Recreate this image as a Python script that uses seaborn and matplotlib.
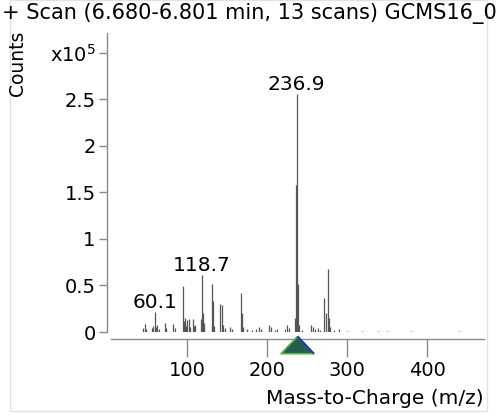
import numpy as np
import pandas as pd
import seaborn as sns
import matplotlib.pyplot as plt
from matplotlib.path import Path
from matplotlib.transforms import blended_transform_factory

# stick spectrum, counts in units of 1e5
mz = [45.0, 47.6, 49.0, 56.0, 58.0, 60.1, 61.0, 63.0, 65.0, 72.0, 74.0, 83.0, 85.0,
      95.0, 96.0, 97.0, 99.0, 100.5, 103.0, 104.0, 107.0, 109.0, 110.0,
      117.7, 118.7, 119.7, 120.7, 121.7, 130.7, 131.7, 132.8, 134.0,
      141.6, 143.7, 144.7, 147.0, 154.0, 156.0, 167.0, 169.0, 170.0,
      175.0, 181.0, 186.0, 190.0, 193.0, 203.0, 205.0, 210.0, 213.0,
      222.0, 225.0, 227.0, 234.9, 235.9, 236.9, 237.9, 238.9, 239.9, 244.0,
      255.0, 257.0, 260.0, 263.0, 266.0, 271.0, 274.0, 275.9, 276.9, 278.0,
      283.0, 290.0, 300.0, 318.0, 338.0, 350.0, 380.0, 440.0]
counts = [0.04, 0.09, 0.03, 0.04, 0.06, 0.22, 0.05, 0.08, 0.03, 0.10, 0.04, 0.09, 0.04,
          0.49, 0.12, 0.15, 0.06, 0.13, 0.14, 0.05, 0.14, 0.06, 0.08,
          0.14, 0.61, 0.20, 0.10, 0.05, 0.52, 0.08, 0.33, 0.06,
          0.30, 0.29, 0.07, 0.04, 0.05, 0.03, 0.42, 0.20, 0.05,
          0.03, 0.02, 0.03, 0.05, 0.03, 0.07, 0.05, 0.02, 0.03,
          0.03, 0.08, 0.04, 0.15, 1.58, 2.55, 0.25, 0.52, 0.08, 0.02,
          0.07, 0.05, 0.03, 0.04, 0.02, 0.37, 0.20, 0.68, 0.15, 0.05,
          0.02, 0.03, 0.01, 0.01, 0.01, 0.01, 0.01, 0.01]

labelled = [60.1, 118.7, 236.9]
precursor = [236.9]

y_ticks = [0, 0.5, 1, 1.5, 2, 2.5, 3]
y_ticklabels = ['0', '0.5', '1', '1.5', '2', '2.5', 'x10$^5$']
x_ticks = [100, 200, 300, 400]

title = '+ Scan (6.680-6.801 min, 13 scans) GCMS16_0'

df = pd.DataFrame({'mz': mz, 'counts': counts})

sns.set_style('white')
plt.rcParams['font.family'] = ['DejaVu Sans']
plt.rcParams['text.color'] = 'black'
plt.rcParams['xtick.labelcolor'] = 'black'
plt.rcParams['ytick.labelcolor'] = 'black'

fig = plt.figure(figsize=(5.03, 4.16), dpi=100)
ax = fig.add_axes([111 / 503, 84 / 416, 373 / 503, 299 / 416])

ax.vlines(df['mz'], 0, df['counts'], color='#555555', linewidth=0.9)

# peak labels
for m in labelled:
    h = df.loc[np.isclose(df['mz'], m), 'counts'].iloc[0]
    ax.text(m, h, f'{m:.1f}', ha='center', va='bottom', fontsize=14.5)

# precursor triangle below the axis
trans = blended_transform_factory(ax.transData, ax.transAxes)
tri = Path([(0, 0.55), (-1, -0.5), (1, -0.5), (0, 0.55)])
edge = Path([(0, 0.55), (1, -0.5)])
sns.scatterplot(x=precursor, y=[-0.042], marker=tri, s=560, color='#245f4c',
                edgecolor='#55b34a', linewidth=1.2, transform=trans, clip_on=False,
                ax=ax, zorder=5)
ax.plot(precursor, [-0.042], marker=edge, markersize=23.7, markerfacecolor='none',
        markeredgecolor='#1c2fd6', markeredgewidth=1.4, transform=trans,
        clip_on=False, linestyle='none', zorder=6)

ax.set_xlim(5, 471)
ax.set_ylim(0, 3.21)
ax.set_yticks(y_ticks)
ax.set_yticklabels(y_ticklabels)
ax.set_xticks(x_ticks)

for s in ['top', 'right']:
    ax.spines[s].set_visible(False)
ax.spines['left'].set_position(('outward', 3))
ax.spines['bottom'].set_position(('outward', 5))
for s in ['left', 'bottom']:
    ax.spines[s].set_color('#8a8a8a')
    ax.spines[s].set_linewidth(1.0)

ax.tick_params(axis='y', direction='out', length=6, width=1, color='#8a8a8a',
               labelsize=14, labelcolor='black', pad=2, left=True)
ax.tick_params(axis='x', direction='out', length=13, width=1, color='#8a8a8a',
               labelsize=14, labelcolor='black', pad=3, bottom=True)
ax.set_xlabel('')
ax.set_ylabel('')

fig.text(2 / 503, 1 - 13 / 416, title, ha='left', va='center', fontsize=15)
fig.text(18 / 503, 1 - 63 / 416, 'Counts', rotation=90, ha='center', va='center',
         fontsize=13.5)
fig.text(484 / 503, 1 - 398 / 416, 'Mass-to-Charge (m/z)', ha='right', va='center',
         fontsize=14.5)

# light frame around the plot area
fig.patches.append(plt.Rectangle((10 / 503, 5 / 416), 477 / 503, 411 / 416,
                                 transform=fig.transFigure, fill=False,
                                 edgecolor='#e2e2e2', linewidth=1, zorder=0))

fig.savefig('out.png', dpi=100)
